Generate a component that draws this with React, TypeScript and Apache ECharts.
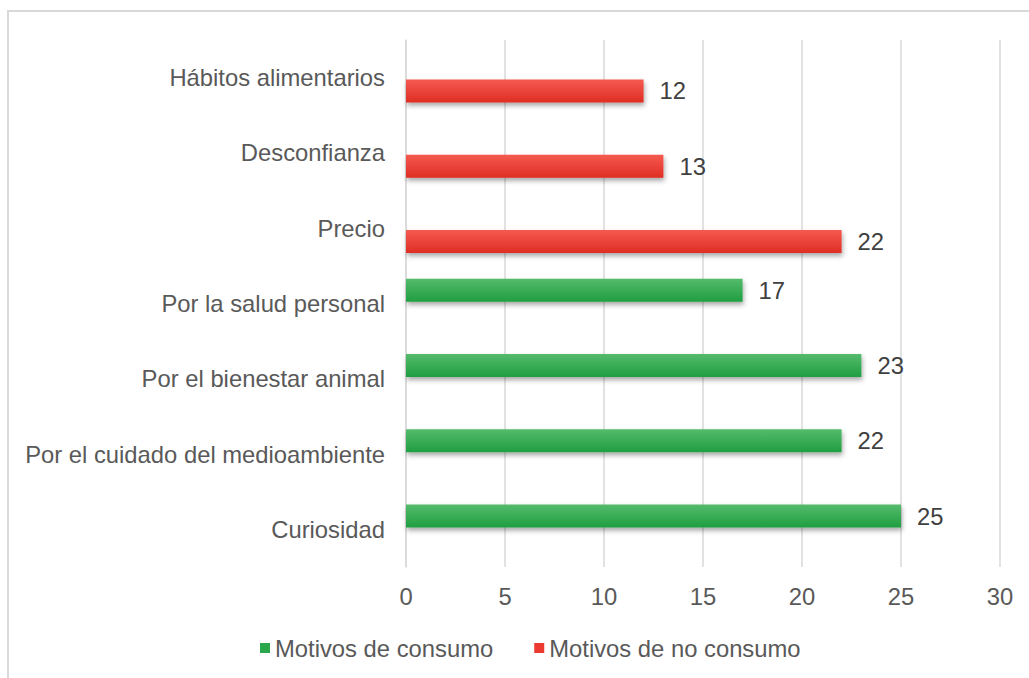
import React, { useEffect, useRef } from "react";
import * as echarts from "echarts";

const categories = [
  "Hábitos alimentarios",
  "Desconfianza",
  "Precio",
  "Por la salud personal",
  "Por el bienestar animal",
  "Por el cuidado del medioambiente",
  "Curiosidad",
];
const consumo: (number | null)[] = [null, null, null, 17, 23, 22, 25];
const noConsumo: (number | null)[] = [12, 13, 22, null, null, null, null];
const seriesNames = ["Motivos de consumo", "Motivos de no consumo"];
const xMin = 0;
const xMax = 30;
const xStep = 5;

const FONT = "'Liberation Sans', Arial, sans-serif";
const FS = 23.8;

export default function App() {
  const ref = useRef<HTMLDivElement>(null);
  useEffect(() => {
    if (!ref.current) return;
    const chart = echarts.init(ref.current, undefined, { renderer: "svg" });
    const grad = (top: string, bottom: string) =>
      new echarts.graphic.LinearGradient(0, 0, 0, 1, [
        { offset: 0, color: top },
        { offset: 1, color: bottom },
      ]);
    const label = {
      show: true,
      position: "right" as const,
      distance: 16,
      fontSize: FS,
      fontFamily: FONT,
      color: "#404040",
    };
    chart.setOption({
      animation: false,
      backgroundColor: "#ffffff",
      textStyle: { fontFamily: FONT },
      graphic: [
        {
          type: "rect",
          shape: { x: 8, y: 11, width: 1100, height: 700 },
          style: { fill: "none", stroke: "#d9d9d9", lineWidth: 2 },
          silent: true,
        },
      ],
      grid: { left: 406, right: 29, top: 40, bottom: 111, containLabel: false },
      legend: {
        left: 255,
        top: 631,
        icon: "rect",
        itemWidth: 10,
        itemHeight: 10,
        itemGap: 41,
        textStyle: { fontSize: FS, color: "#595959", fontFamily: FONT },
        data: [
          { name: seriesNames[0], itemStyle: { color: "#2aa64b" } },
          { name: seriesNames[1], itemStyle: { color: "#ec3a30" } },
        ],
      },
      xAxis: {
        type: "value",
        min: xMin,
        max: xMax,
        interval: xStep,
        axisLine: { show: false },
        axisTick: { show: false },
        axisLabel: { fontSize: FS, color: "#595959", margin: 17, fontFamily: FONT },
        splitLine: { show: true, lineStyle: { color: "#d9d9d9", width: 1.5 } },
      },
      yAxis: {
        type: "category",
        inverse: true,
        data: categories,
        axisLine: { show: true, lineStyle: { color: "#d9d9d9", width: 1.5 } },
        axisTick: { show: false },
        axisLabel: { fontSize: FS, color: "#595959", margin: 21, fontFamily: FONT },
      },
      series: [
        {
          name: seriesNames[0],
          type: "bar",
          data: consumo,
          barWidth: 23,
          barGap: "16%",
          label,
          itemStyle: {
            color: grad("#55bb6c", "#1f9e41"),
            shadowColor: "rgba(0,0,0,0.35)",
            shadowBlur: 5,
            shadowOffsetX: 1,
            shadowOffsetY: 3,
          },
        },
        {
          name: seriesNames[1],
          type: "bar",
          data: noConsumo,
          barWidth: 23,
          barGap: "16%",
          label,
          itemStyle: {
            color: grad("#f55a50", "#df2d23"),
            shadowColor: "rgba(0,0,0,0.35)",
            shadowBlur: 5,
            shadowOffsetX: 1,
            shadowOffsetY: 3,
          },
        },
      ],
    });
    return () => chart.dispose();
  }, []);
  return (
    <div
      ref={ref}
      style={{ position: "fixed", left: 0, top: 0, width: 1029, height: 678 }}
    />
  );
}
